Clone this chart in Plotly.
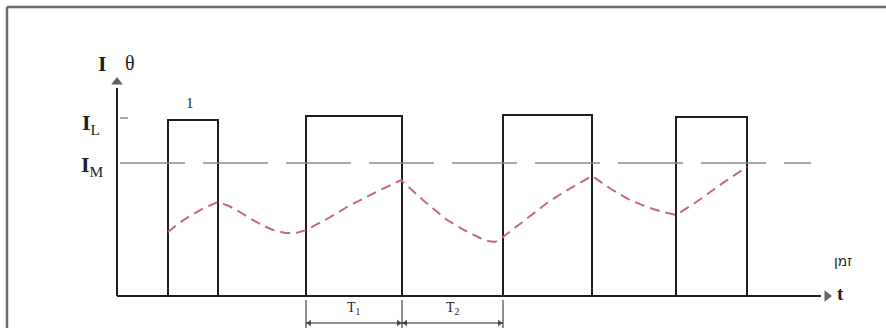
import plotly.graph_objects as go

# ---- data (time units, value units) ----
pulse_start = [5.1, 18.9, 38.6, 55.9]
pulse_end = [10.1, 28.5, 47.5, 63.0]
pulse_height = [17.6, 18.0, 18.1, 17.9]

I_L = 17.8
I_M = 13.3

theta_t = [5.1, 6.2, 7.3, 8.7, 10.1, 11.2, 12.3, 13.4, 14.5, 15.6, 16.8, 17.9, 18.9,
           21.0, 23.0, 24.7, 26.3, 27.4, 28.4, 30.7, 33.0, 34.7, 36.3, 37.1, 37.8, 38.6,
           40.8, 43.0, 44.7, 46.3, 47.5, 49.4, 51.3, 53.0, 54.6, 55.9, 57.8, 59.6, 61.3, 63.0]
theta_v = [6.4, 7.3, 8.0, 8.8, 9.4, 9.0, 8.4, 7.7, 7.1, 6.6, 6.3, 6.3, 6.6,
           7.7, 8.9, 9.8, 10.6, 11.1, 11.6, 9.5, 7.6, 6.6, 5.8, 5.5, 5.4, 5.9,
           7.6, 9.3, 10.4, 11.3, 12.0, 10.7, 9.6, 8.9, 8.4, 8.1, 9.3, 10.6, 11.8, 12.9]

x_axis_end = 71.0
y_axis_end = 21.4
m_line_end = 69.4
T_marks = [18.9, 28.5, 38.6]
T_labels = ["T<sub>1</sub>", "T<sub>2</sub>"]

X_RANGE = [-11.7, 76.9]
Y_RANGE = [-3.2, 29.6]

BLACK = "#1e1e1e"
GRAY = "#8a8a8a"
RED = "#c8687a"
SERIF = "Liberation Serif, DejaVu Serif, serif"

fig = go.Figure()

# axes lines
fig.add_trace(go.Scatter(x=[0, x_axis_end - 0.6, None, 0, 0], y=[0, 0, None, 0, y_axis_end - 0.6],
                         mode="lines", line=dict(color=BLACK, width=2),
                         hoverinfo="skip", showlegend=False))

# pulses as rectangle outlines
px, py = [], []
for s, e, h in zip(pulse_start, pulse_end, pulse_height):
    px += [s, s, e, e, None]
    py += [0, h, h, 0, None]
fig.add_trace(go.Scatter(x=px, y=py, mode="lines", line=dict(color=BLACK, width=2),
                         hoverinfo="skip", showlegend=False))

# I_M dashed reference line
fig.add_trace(go.Scatter(x=[0.3, m_line_end], y=[I_M, I_M], mode="lines",
                         line=dict(color=GRAY, width=1.5, dash="65px,18px"),
                         hoverinfo="skip", showlegend=False))

# theta curve
fig.add_trace(go.Scatter(x=theta_t, y=theta_v, mode="lines",
                         line=dict(color=RED, width=2, dash="10px,6px"),
                         hoverinfo="skip", showlegend=False))

# dimension lines
dx, dy = [], []
for a, b in zip(T_marks[:-1], T_marks[1:]):
    dx += [a, b, None]
    dy += [-2.7, -2.7, None]
fig.add_trace(go.Scatter(x=dx, y=dy, mode="lines", line=dict(color=BLACK, width=1),
                         hoverinfo="skip", showlegend=False))

# arrowheads as markers
ah_x = [x_axis_end, 0]
ah_y = [0, y_axis_end]
ah_sym = ["triangle-right", "triangle-up"]
ah_size = [10, 10]
for a, b in zip(T_marks[:-1], T_marks[1:]):
    ah_x += [a + 0.35, b - 0.35]
    ah_y += [-2.7, -2.7]
    ah_sym += ["triangle-left", "triangle-right"]
    ah_size += [6, 6]
fig.add_trace(go.Scatter(x=ah_x, y=ah_y, mode="markers",
                         marker=dict(symbol=ah_sym, size=ah_size, color=BLACK, line=dict(width=0)),
                         hoverinfo="skip", showlegend=False))

shapes = []
# frame (top and left)
shapes.append(dict(type="line", xref="x", yref="y", x0=-11.0, y0=Y_RANGE[0], x1=-11.0, y1=28.9,
                   line=dict(color="#6a6a6a", width=2.5)))
shapes.append(dict(type="line", xref="x", yref="y", x0=-11.0, y0=28.9, x1=X_RANGE[1], y1=28.9,
                   line=dict(color="#6a6a6a", width=2.5)))
# I_L tick
shapes.append(dict(type="line", xref="x", yref="y", x0=0.3, y0=I_L, x1=1.1, y1=I_L,
                   line=dict(color=GRAY, width=1.5)))
# dimension extension ticks
for m in T_marks:
    shapes.append(dict(type="line", xref="x", yref="y", x0=m, y0=-0.4, x1=m, y1=-3.2,
                       line=dict(color=BLACK, width=1)))

annotations = []
for a, b, lab in zip(T_marks[:-1], T_marks[1:], T_labels):
    annotations.append(dict(x=(a + b) / 2, y=-1.2, text=lab, showarrow=False,
                            font=dict(family=SERIF, size=14, color=BLACK)))

# text labels
annotations += [
    dict(x=-1.5, y=23.3, text="<b>I</b>", showarrow=False, font=dict(family=SERIF, size=22, color=BLACK)),
    dict(x=1.3, y=23.3, text="θ", showarrow=False, font=dict(family=SERIF, size=20, color=BLACK)),
    dict(x=-2.6, y=17.2, text="<b>I</b><sub>L</sub>", showarrow=False, font=dict(family=SERIF, size=22, color=BLACK)),
    dict(x=-2.5, y=13.0, text="<b>I</b><sub>M</sub>", showarrow=False, font=dict(family=SERIF, size=22, color=BLACK)),
    dict(x=7.3, y=19.3, text="1", showarrow=False, font=dict(family=SERIF, size=15, color=BLACK)),
    dict(x=72.6, y=3.5, text="זמן", showarrow=False, font=dict(family="DejaVu Sans, sans-serif", size=14, color=BLACK)),
    dict(x=72.3, y=0.3, text="<b>t</b>", showarrow=False, font=dict(family=SERIF, size=19, color=BLACK)),
]
for an in annotations:
    an.setdefault("xref", "x")
    an.setdefault("yref", "y")

fig.update_layout(
    width=886, height=328,
    margin=dict(l=0, r=0, t=0, b=0),
    paper_bgcolor="white", plot_bgcolor="white",
    xaxis=dict(range=X_RANGE, visible=False, fixedrange=True),
    yaxis=dict(range=Y_RANGE, visible=False, fixedrange=True),
    shapes=shapes, annotations=annotations, showlegend=False,
)

fig.write_html("out.html", config={"displayModeBar": False},
               post_script="document.body.style.margin='0';document.body.style.overflow='hidden';")
